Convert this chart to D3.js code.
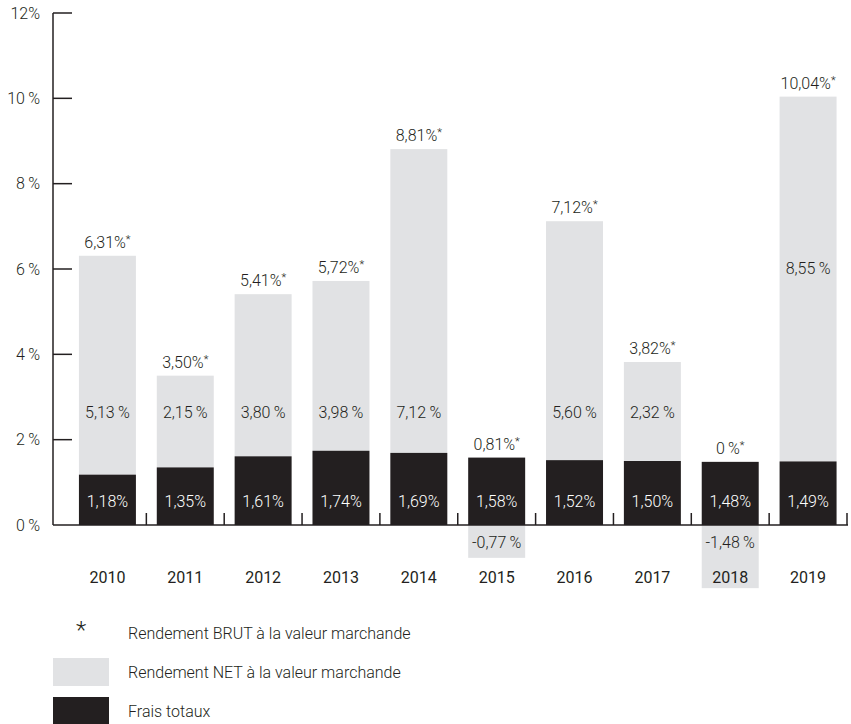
<!DOCTYPE html>
<html>
<head>
<meta charset="utf-8">
<script src="https://cdn.jsdelivr.net/npm/d3@7"></script>
<style>
  body { margin: 0; background: #fff; }
  text { font-family: Roboto, "Open Sans", sans-serif; font-weight: 300; fill: #231f20; }
</style>
</head>
<body>
<svg width="851" height="724"></svg>
<script>
const years = ["2010", "2011", "2012", "2013", "2014", "2015", "2016", "2017", "2018", "2019"];
const fees = [1.18, 1.35, 1.61, 1.74, 1.69, 1.58, 1.52, 1.50, 1.48, 1.49];
const net = [5.13, 2.15, 3.80, 3.98, 7.12, -0.77, 5.60, 2.32, -1.48, 8.55];
const brut = [6.31, 3.50, 5.41, 5.72, 8.81, 0.81, 7.12, 3.82, 0, 10.04];
const yTicks = [0, 2, 4, 6, 8, 10, 12];
const legendItems = ["Rendement BRUT à la valeur marchande", "Rendement NET à la valeur marchande", "Frais totaux"];

const svg = d3.select("svg");
const dark = "#231f20", light = "#e1e2e4";

const fmt = v => d3.format(".2f")(v).replace(".", ",");
const fmtBrut = v => v === 0 ? "0\u2009%" : fmt(v) + "%";

const x = d3.scaleBand()
  .domain(years)
  .range([68.5, 847])
  .paddingInner(0.268)
  .paddingOuter(0.134);

const y = d3.scaleLinear()
  .domain([0, 12])
  .range([525, 13]);

const rows = years.map((yr, i) => ({ yr, fee: fees[i], net: net[i], brut: brut[i] }));

// net return bars (gray)
svg.append("g")
  .selectAll("rect")
  .data(rows)
  .enter().append("rect")
  .attr("x", d => x(d.yr))
  .attr("width", x.bandwidth())
  .attr("y", d => d.net >= 0 ? y(d.fee + d.net) : y(0))
  .attr("height", d => Math.abs(y(0) - y(d.net)))
  .attr("fill", light);

// fees bars (black)
svg.append("g")
  .selectAll("rect")
  .data(rows)
  .enter().append("rect")
  .attr("x", d => x(d.yr))
  .attr("width", x.bandwidth())
  .attr("y", d => y(d.fee))
  .attr("height", d => y(0) - y(d.fee))
  .attr("fill", dark);

// y axis
svg.append("line")
  .attr("x1", 53).attr("x2", 53)
  .attr("y1", y(12)).attr("y2", y(0))
  .attr("stroke", dark).attr("stroke-width", 1.5);

svg.append("g")
  .selectAll("line")
  .data(yTicks.filter(t => t > 0))
  .enter().append("line")
  .attr("x1", 53).attr("x2", 72)
  .attr("y1", d => y(d)).attr("y2", d => y(d))
  .attr("stroke", dark).attr("stroke-width", 1.5);

svg.append("g")
  .selectAll("text")
  .data(yTicks)
  .enter().append("text")
  .attr("x", 40)
  .attr("y", d => y(d))
  .attr("dy", "0.35em")
  .attr("text-anchor", "end")
  .style("font-size", "16px")
  .text(d => d === 12 ? "12%" : d + "\u2009%");

// x axis with small upward ticks between bands
svg.append("line")
  .attr("x1", 53).attr("x2", 848)
  .attr("y1", y(0)).attr("y2", y(0))
  .attr("stroke", dark).attr("stroke-width", 1.5);

const gap = x.step() - x.bandwidth();
svg.append("g")
  .selectAll("line")
  .data(years.slice(1).map(yr => x(yr) - gap / 2).concat([x("2019") + x.bandwidth() + gap / 2]))
  .enter().append("line")
  .attr("x1", d => d).attr("x2", d => d)
  .attr("y1", y(0)).attr("y2", y(0) - 12)
  .attr("stroke", dark).attr("stroke-width", 1.5);

svg.append("g")
  .selectAll("text")
  .data(years)
  .enter().append("text")
  .attr("x", d => x(d) + x.bandwidth() / 2)
  .attr("y", 577)
  .attr("dy", "0.35em")
  .attr("text-anchor", "middle")
  .style("font-size", "16px")
  .style("font-weight", 400)
  .text(d => d);

// labels
const labels = svg.append("g").style("font-size", "16px").attr("text-anchor", "middle");

// fees labels
labels.selectAll(".fee")
  .data(rows)
  .enter().append("text")
  .attr("x", d => x(d.yr) + x.bandwidth() / 2)
  .attr("y", y(0.55))
  .attr("dy", "0.35em")
  .style("fill", "#fff")
  .text(d => fmt(d.fee) + "%");

// net labels
labels.selectAll(".net")
  .data(rows)
  .enter().append("text")
  .attr("x", d => x(d.yr) + x.bandwidth() / 2)
  .attr("y", d => d.net < 0 ? y(-0.4) : (d.brut > 10 ? y(d.brut * 0.6) : y(2.65)))
  .attr("dy", "0.35em")
  .text(d => (d.net < 0 ? "-" : "") + fmt(Math.abs(d.net)) + "\u2009%");

// brut labels
const bl = labels.selectAll(".brut")
  .data(rows)
  .enter().append("text")
  .attr("x", d => x(d.yr) + x.bandwidth() / 2)
  .attr("y", d => y(Math.max(d.brut, d.fee)) - 8);
bl.append("tspan").text(d => fmtBrut(d.brut));
bl.append("tspan").attr("dy", -5).style("font-size", "11px").text("*");

// legend
svg.append("text")
  .attr("x", 81).attr("y", 638)
  .attr("text-anchor", "middle")
  .style("font-size", "24px")
  .text("*");
svg.append("rect").attr("x", 53).attr("y", 658).attr("width", 56).attr("height", 28).attr("fill", light);
svg.append("rect").attr("x", 53).attr("y", 697).attr("width", 56).attr("height", 28).attr("fill", dark);

svg.append("g")
  .selectAll("text")
  .data(legendItems)
  .enter().append("text")
  .attr("x", 128)
  .attr("y", (d, i) => 633 + i * 39)
  .attr("dy", "0.35em")
  .style("font-size", "16px")
  .text(d => d);
</script>
</body>
</html>
